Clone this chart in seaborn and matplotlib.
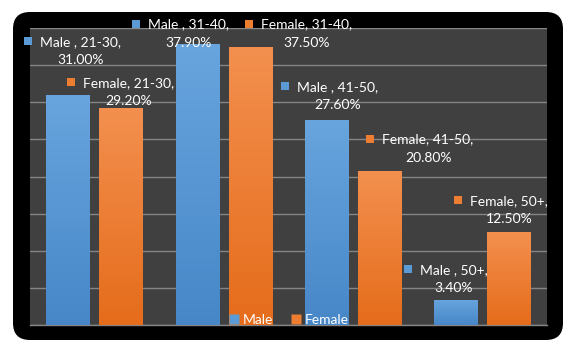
import numpy as np
import pandas as pd
import seaborn as sns
import matplotlib
matplotlib.use("Agg")
import matplotlib.pyplot as plt
from matplotlib.patches import FancyBboxPatch, Rectangle
from matplotlib.lines import Line2D
from matplotlib.colors import LinearSegmentedColormap
from matplotlib.transforms import IdentityTransform

# ---- data ----
age_groups = ["21-30", "31-40", "41-50", "50+"]
male_pct = [31.0, 37.9, 27.6, 3.4]
female_pct = [29.2, 37.5, 20.8, 12.5]
series = ["Male", "Female"]
series_label_names = ["Male ", "Female"]

df = pd.DataFrame({
    "Age": age_groups * 2,
    "Pct": male_pct + female_pct,
    "Gender": ["Male"] * len(age_groups) + ["Female"] * len(age_groups),
})

# ---- style ----
sns.set_theme(style="dark")
plt.rcParams["font.family"] = ["Lato", "DejaVu Sans"]

colors = {"Male": "#5b9bd5", "Female": "#ed7d31"}
grad_colors = {"Male": ("#4787c8", "#68a5de"), "Female": ("#e56c1b", "#f3904f")}

W, H = 577, 347
DPI = 100
fig = plt.figure(figsize=(W / DPI, H / DPI), dpi=DPI, facecolor="white")

# black rounded chart frame
frame = FancyBboxPatch((0.13, (H - 340) / DPI), 5.50, 3.28,
                       boxstyle="round,pad=0,rounding_size=0.17",
                       transform=fig.dpi_scale_trans, facecolor="black",
                       edgecolor="none", zorder=-5)
fig.patches.append(frame)

ax = fig.add_axes([30 / W, (H - 325) / H, 517 / W, 297 / H])
ax.set_facecolor("#404040")

sns.barplot(data=df, x="Age", y="Pct", hue="Gender", hue_order=series,
            order=age_groups, palette=colors, width=0.82, gap=0.18,
            ax=ax, legend=False, zorder=3, saturation=1,
            linewidth=0, edgecolor="none")

ax.set_xlim(-0.5, len(age_groups) - 0.5)
ax.set_ylim(0, 40)
ax.set_yticks(np.arange(0, 41, 5))
ax.set_xticks([])
ax.set_yticklabels([])
ax.set_xlabel("")
ax.set_ylabel("")
ax.tick_params(length=0)
ax.set_axisbelow(True)
ax.yaxis.grid(True, color="#858585", linewidth=1.0)
ax.xaxis.grid(False)
for s in ["top", "left", "right"]:
    ax.spines[s].set_visible(False)
ax.spines["bottom"].set_color("#858585")
ax.spines["bottom"].set_linewidth(1.0)

# gradient fill of bars
for name, cont in zip(series, ax.containers):
    cmap = LinearSegmentedColormap.from_list(name, grad_colors[name])
    for rect in cont:
        x0, y0 = rect.get_xy()
        w, h = rect.get_width(), rect.get_height()
        im = ax.imshow(np.linspace(0, 1, 256).reshape(-1, 1), extent=[x0, x0 + w, y0, y0 + h],
                       origin="lower", cmap=cmap, aspect="auto", zorder=3.5)
        im.set_clip_path(rect)
ax.set_xlim(-0.5, len(age_groups) - 0.5)
ax.set_ylim(0, 40)

# label offsets (pixels) of label block centre relative to bar top centre
label_offsets = {
    "Male": [(12, 44), (-8.5, 10), (11, 24), (-2, 21)],
    "Female": [(7.5, 16), (56, 13), (48.5, 22), (0.5, 22)],
}
FS = 10
line_half = 9
line1_texts = []
for name, lname, cont in zip(series, series_label_names, ax.containers):
    for i, rect in enumerate(cont):
        cx = rect.get_x() + rect.get_width() / 2
        top = rect.get_height()
        dx, dy = label_offsets[name][i]
        t1 = ax.annotate(f"{lname}, {age_groups[i]},", xy=(cx, top), xytext=(dx, dy + line_half),
                         textcoords="offset pixels", ha="center", va="center",
                         color="white", fontsize=FS, zorder=6)
        ax.annotate(f"{top:.2f}%", xy=(cx, top), xytext=(dx, dy - line_half),
                    textcoords="offset pixels", ha="center", va="center",
                    color="white", fontsize=FS, zorder=6)
        line1_texts.append((t1, colors[name]))

fig.canvas.draw()
renderer = fig.canvas.get_renderer()
for t1, col in line1_texts:
    bb = t1.get_window_extent(renderer)
    yc = (bb.y0 + bb.y1) / 2
    sq = 8
    fig.add_artist(Rectangle((bb.x0 - 12 - sq / 2, yc - sq / 2 + 1), sq, sq,
                             transform=IdentityTransform(), facecolor=col,
                             edgecolor="none", zorder=7))

# legend
handles = [Line2D([], [], marker="s", linestyle="none", markersize=6.5,
                  markerfacecolor=colors[n], markeredgecolor="none") for n in series]
leg = ax.legend(handles, series, loc="lower center", bbox_to_anchor=(0.5, -0.045),
                ncol=2, frameon=False, handlelength=0.8, handletextpad=0.25,
                columnspacing=1.2, fontsize=FS, labelcolor="white")
leg.set_zorder(8)

fig.savefig("out.png", dpi=DPI, facecolor="white")
